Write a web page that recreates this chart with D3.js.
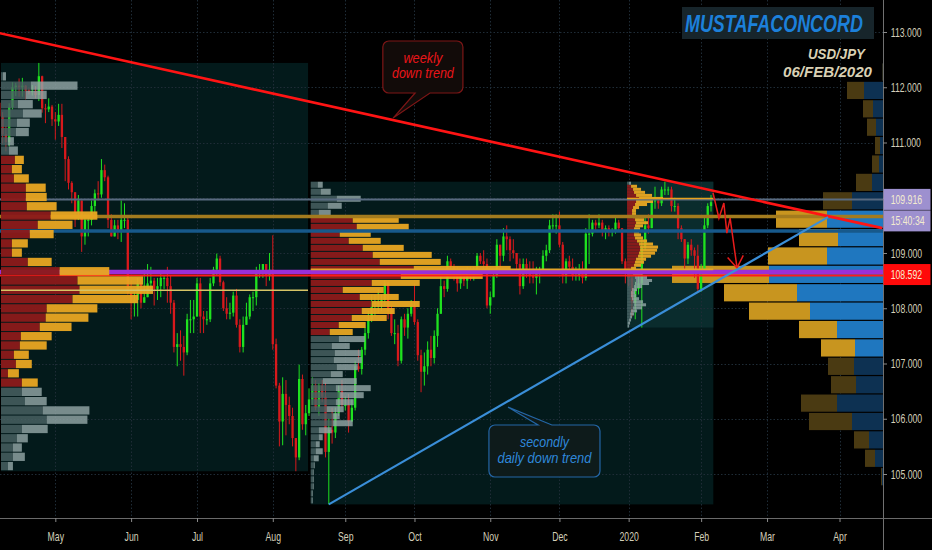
<!DOCTYPE html>
<html><head><meta charset="utf-8">
<script src="https://cdn.jsdelivr.net/npm/d3@7/dist/d3.min.js"></script>
<style>html,body{margin:0;padding:0;background:#000;overflow:hidden}</style>
</head><body>
<svg id="chart" width="932" height="550"></svg>
<script>
// ===================== DATA =====================
const startDay = "2019-04-08";
const holidays = ["2019-12-25", "2020-01-01"];
const firstOpen = 111.72;
const closes = [111.47,111.15,111.01,111.64,112.00, 112.03,112.00,112.03,111.94,111.92, 111.93,111.86,112.20,111.62,111.60,
111.65,111.42,111.38,111.50,111.10, 110.70,110.27,110.10,109.73,109.95, 109.30,109.60,109.60,109.85,110.08,
110.06,110.50,110.37,109.60,109.30, 109.50,109.40,109.60,109.60,108.28, 108.10,108.15,108.45,108.10,108.20,
108.45,108.50,108.35,108.40,108.55, 108.55,108.40,108.10,107.30,107.35, 107.30,107.20,107.80,107.80,107.85,
108.45,107.85,107.80,107.80,108.45, 108.70,108.90,108.47,108.00,107.90, 107.92,108.23,107.70,107.30,107.70,
107.85,108.20,108.20,108.65,108.68, 108.80,108.60,108.70,107.35,106.60, 105.95,106.45,106.25,106.05,105.65,
105.30,106.72,105.90,106.10,106.35, 106.60,106.20,106.60,106.40,105.40, 105.80,105.75,106.10,106.50,106.25,
106.25,105.95,106.20,106.95,106.90, 107.25,107.55,107.80,108.10,108.10, 108.10,108.15,108.45,107.95,107.55,
107.55,107.05,107.80,107.65,107.90, 108.05,107.75,107.15,106.85,106.95, 107.25,107.10,107.50,107.90,108.40,
108.35,108.85,108.75,108.65,108.45, 108.60,108.50,108.70,108.60,108.65, 108.95,108.85,108.80,108.05,108.20,
108.60,109.15,108.95,109.30,109.25, 109.05,109.00,108.80,108.40,108.80, 108.65,108.60,108.55,108.65,108.70,
108.95,109.05,109.50,109.50,109.50, 109.15,108.60,108.85,108.75,108.60, 108.60,108.70,108.55,109.35,109.35,
109.55,109.50,109.55,109.40,109.45, 109.40,109.40,109.55,109.45, 108.85,108.65,108.55,108.10,
108.35,108.45,109.10,109.50,109.45, 109.95,109.95,109.90,110.15,110.15, 110.15,109.85,109.85,109.45,109.25,
108.90,109.15,109.05,108.95,108.35, 108.70,109.50,109.85,109.92];
const highs = [111.80,111.55,111.30,111.71,112.09, 112.08,112.16,112.17,112.04,111.98, 112.04,112.02,112.44,112.21,111.70,
111.80,111.68,111.55,111.70,111.70, 111.05,110.75,110.30,110.10,110.05, 109.95,109.70,109.70,109.95,110.15,
110.30,110.70,110.60,110.40,109.70, 109.60,109.60,109.95,109.90,109.65, 108.50,108.30,108.55,108.55,108.70,
108.80,108.75,108.55,108.55,108.65, 108.60,108.75,108.60,108.15,107.55, 107.60,107.50,107.90,108.15,108.15,
108.55,108.55,107.95,107.95,108.55, 108.75,108.99,108.95,108.50,108.20, 108.10,108.30,108.35,107.80,107.85,
108.10,108.25,108.30,108.75,108.80, 108.80,108.80,109.00,109.32,107.45, 106.65,106.75,106.70,106.40,106.20,
105.65,106.98,106.80,106.25,106.55, 106.75,106.70,106.65,106.70,106.65, 106.00,106.20,106.20,106.60,106.70,
106.40,106.45,106.35,107.05,107.25, 107.30,107.65,107.95,108.25,108.25, 108.35,108.25,108.50,108.48,108.05,
107.80,107.70,107.85,107.90,108.00, 108.15,108.45,107.80,107.25,107.20, 107.40,107.50,107.60,108.00,108.60,
108.50,108.95,108.90,108.80,108.75, 108.70,108.70,108.75,108.75,108.75, 109.00,109.00,109.05,108.90,108.30,
108.70,109.25,109.15,109.45,109.50, 109.30,109.25,109.00,108.90,108.90, 108.90,108.85,108.85,108.75,108.75,
109.05,109.15,109.60,109.70,109.70, 109.75,109.20,108.90,108.95,108.90, 108.75,108.80,108.85,109.45,109.70,
109.60,109.60,109.70,109.60,109.50, 109.50,109.45,109.65,109.60, 109.45,108.90,108.75,108.60,
108.50,108.60,109.25,109.65,109.70, 110.00,110.20,110.00,110.20,110.29, 110.20,110.20,110.00,109.90,109.50,
109.10,109.20,109.25,109.10,109.15, 108.80,109.65,109.90,110.05];
const lows = [111.15,110.98,110.84,110.93,111.60, 111.84,111.83,111.83,111.78,111.87, 111.85,111.80,111.75,111.54,111.35,
111.55,111.30,111.05,111.30,110.90, 110.30,110.15,109.90,109.47,109.60, 109.02,109.15,109.30,109.50,109.70,
109.95,110.00,110.30,109.45,109.30, 109.30,109.25,109.20,109.45,108.25, 107.80,107.85,107.85,108.00,108.10,
108.25,108.35,108.05,108.15,108.20, 108.35,108.10,107.90,107.20,106.95, 107.05,106.78,107.15,107.55,107.55,
107.85,107.55,107.55,107.70,107.75, 108.40,108.60,108.40,107.95,107.80, 107.80,107.85,107.65,107.20,107.20,
107.70,107.80,107.95,108.05,108.55, 108.55,108.40,108.50,107.25,106.55, 105.50,105.52,105.70,105.90,105.50,
105.05,105.25,105.80,105.70,106.05, 106.25,106.15,106.05,106.30,105.30, 104.45,105.55,105.65,106.05,106.20,
106.15,105.75,105.95,106.15,106.85, 106.80,107.15,107.45,107.75,107.85, 107.90,107.95,108.05,107.80,107.50,
107.35,106.95,107.00,107.50,107.45, 107.85,107.70,107.05,106.48,106.60, 106.80,106.95,107.00,107.30,107.90,
108.20,108.30,108.60,108.50,108.30, 108.35,108.40,108.35,108.50,108.50, 108.60,108.80,108.65,108.00,107.90,
108.20,108.55,108.75,108.85,109.05, 108.85,108.90,108.65,108.25,108.35, 108.55,108.45,108.45,108.25,108.45,
108.65,108.85,109.00,109.40,109.35, 109.10,108.45,108.45,108.65,108.50, 108.50,108.50,108.45,108.50,108.80,
109.30,109.40,109.45,109.30,109.25, 109.30,109.30,109.35,109.40, 108.80,108.45,108.40,107.85,
107.80,108.25,107.65,109.05,109.35, 109.45,109.80,109.80,109.85,110.05, 110.05,109.75,109.75,109.25,109.20,
108.70,108.80,108.95,108.55,108.30, 108.30,108.75,109.45,109.75];

const priceTicks = [105,106,107,108,109,110,111,112,113];
const monthStarts = ["2019-05-01","2019-06-01","2019-07-01","2019-08-01","2019-09-01","2019-10-01","2019-11-01","2019-12-01","2020-01-01","2020-02-01","2020-03-01","2020-04-01"];
const monthLabels = ["May","Jun","Jul","Aug","Sep","Oct","Nov","Dec","2020","Feb","Mar","Apr"];

// horizontal levels: grey, gold, blue, purple, red
const levelPrices = [109.97, 109.66, 109.40, 108.657, 108.592];
const lastPrice = 109.916;
const countdown = "15:40:34";
const markedPrice = 108.592;

// session volume profiles (relative volumes, top row first)
const vp1Period = ["2019-04-09", "2019-08-15"];
const vp1Down = [0,2,30,25,17,22,16,15,7,8,14,11,13,25,25,26,50,37,29,11,11,27,59,77,79,72,46,45,39,20,19,13,15,7,21,21,24,42,46,21,16,12,12,7];
const vp1Up   = [0,3,47,21,15,19,13,13,6,9,9,10,15,20,21,30,47,35,24,16,10,24,50,66,74,66,51,43,32,31,27,15,16,11,16,20,22,47,41,26,11,9,12,5];
const vp1ValueArea = [10, 34];

const vp2Period = ["2019-08-19", "2020-02-06"];
const vp2Down = [7,10,26,17,8,42,46,29,38,52,62,69,103,90,61,32,49,61,51,41,28,19,28,21,24,23,26,20,12,25,29,25,16,22,22,8,8,5,5,3,3,2,2,2,1,1];
const vp2Up   = [5,10,24,14,12,46,52,31,32,41,59,61,97,82,48,41,39,48,33,35,27,23,26,18,26,28,21,12,34,35,24,18,17,7,20,13,4,4,7,5,1,1,1,1,1,1];
const vp2ValueArea = [5, 21];

const vp3Period = ["2020-01-02", "2020-02-06"];
const vp3Down = [2,4,6,7,9,12,9,8,6,5,5,6,8,9,8,7,7,7,8,10,12,13,13,12,11,9,8,7,4,5,6,8,9,8,7,5,4,4,5,6,7,6,4,3,3,2,1,1];
const vp3Up   = [2,6,8,11,16,24,17,12,6,4,4,6,9,12,8,6,5,7,8,10,14,18,17,16,13,10,9,7,5,7,9,12,16,14,8,5,4,5,7,10,12,9,6,4,2,2,2,1];
const vp3ValueArea = [1, 28];

// visible range volume profile
const vpvUp   = [0.5,17,10,9,5,7,16,29,51,39,59,97,73,61,38,34,26,25,36,43,15,10,1,0];
const vpvDown = [0.5,19,10,7,3,4,11,31,56,45,56,114,86,73,46,28,29,27,46,31,14,8,1,0];
const vpvValueArea = [8, 15];

// drawings (bar index, price)
const weeklyTrend = [[0, 112.98], [268, 109.45]];
const dailyTrend  = [[100, 104.45], [251.5, 109.65]];
const forecastPath = [[216.6,110.09],[218.4,109.63],[219.9,109.905],[220.8,109.36],[221.8,109.63],[223.9,108.73]];

// ===================== SETUP =====================
const W = 932, H = 550, AX = 883, AY = 518;
const svg = d3.select("#chart");
const parse = d3.timeParse("%Y-%m-%d"), fmt = d3.timeFormat("%Y-%m-%d");
const tradingDays = [];
for (let d = parse(startDay); tradingDays.length < 290; d = d3.timeDay.offset(d, 1)) {
  const w = d.getDay();
  if (w !== 0 && w !== 6 && !holidays.includes(fmt(d))) tradingDays.push(d);
}
const dayIndex = s => { const t = parse(s); return tradingDays.findIndex(d => d >= t); };

const x = d3.scaleLinear().domain([0, 268]).range([-0.7, 882.36]);
const y = d3.scaleLinear().domain([105, 113]).range([474, 32]);

const candles = closes.map((c, i) => {
  const o = i === 0 ? firstOpen : closes[i - 1];
  return { i, o, c, h: Math.max(highs[i], o, c), l: Math.min(lows[i], o, c) };
});

const GREEN = "#1fe21f", RED = "#d8191c";
const FONT = "'Liberation Sans', Arial, sans-serif";

// text squeezed horizontally to a target width
function fitText(parent, str, px, py, width, anchor, attrs) {
  const t = parent.append("text").attr("x", 0).attr("y", 0).attr("text-anchor", anchor).text(str);
  Object.entries(attrs).forEach(([k, v]) => t.attr(k, v));
  const natural = t.node().getComputedTextLength() || width;
  t.attr("transform", `translate(${px},${py}) scale(${width / natural},1)`);
  return t;
}

svg.append("rect").attr("width", W).attr("height", H).attr("fill", "#000");
svg.append("defs").append("clipPath").attr("id", "plot")
  .append("rect").attr("x", 0).attr("y", 0).attr("width", AX).attr("height", AY);
const plot = svg.append("g").attr("clip-path", "url(#plot)");

// ---- profile geometry
function makeProfile(period, down, up, va, pocWidth) {
  const i0 = dayIndex(period[0]), i1 = dayIndex(period[1]);
  const seg = candles.slice(i0, i1 + 1);
  const hi = d3.max(seg, d => d.h), lo = d3.min(seg, d => d.l);
  const totals = down.map((v, k) => v + up[k]);
  return {
    i0, i1, hi, lo, down, up, va, totals,
    left: x(i0) - 1.6, right: x(i1) + 2.3,
    step: (hi - lo) / down.length,
    w: d3.scaleLinear().domain([0, d3.max(totals)]).range([0, pocWidth]),
    poc: d3.maxIndex(totals)
  };
}
const P1 = makeProfile(vp1Period, vp1Down, vp1Up, vp1ValueArea, 152);
const P2 = makeProfile(vp2Period, vp2Down, vp2Up, vp2ValueArea, 200);
const P3 = makeProfile(vp3Period, vp3Down, vp3Up, vp3ValueArea, 36);

// ---- box backgrounds
[[P1, "#031a1b"], [P2, "#031a1b"], [P3, "#0a2c2d"]].forEach(([p, col]) => {
  plot.append("rect").attr("x", p.left).attr("y", y(p.hi))
    .attr("width", p.right - p.left).attr("height", y(p.lo) - y(p.hi)).attr("fill", col);
});

// ---- grid
const monthIdx = monthStarts.map(dayIndex);
const grid = plot.append("g").attr("stroke", "#1f2c37").attr("stroke-width", 1).attr("stroke-dasharray", "1.5,2");
grid.selectAll("line.h").data(priceTicks).join("line")
  .attr("x1", 0).attr("x2", AX).attr("y1", d => Math.round(y(d)) + 0.5).attr("y2", d => Math.round(y(d)) + 0.5);
grid.selectAll("line.v").data(monthIdx).join("line")
  .attr("y1", 0).attr("y2", AY).attr("x1", d => Math.round(x(d)) + 0.5).attr("x2", d => Math.round(x(d)) + 0.5);

// ---- visible range volume profile (right side)
{
  const hi = d3.max(candles, d => d.h), lo = d3.min(candles, d => d.l);
  const n = vpvUp.length, step = (hi - lo) / n;
  const totals = vpvUp.map((v, k) => v + vpvDown[k]);
  const w = d3.scaleLinear().domain([0, d3.max(totals)]).range([0, 211]);
  const rows = vpvUp.map((u, k) => ({ k, u, d: vpvDown[k], inVA: k >= vpvValueArea[0] && k <= vpvValueArea[1],
    y0: y(hi - k * step), y1: y(hi - (k + 1) * step) }));
  const g = plot.append("g");
  g.selectAll("rect.b").data(rows).join("rect")
    .attr("x", r => AX - w(r.d)).attr("width", r => w(r.d))
    .attr("y", r => r.y0 + 0.5).attr("height", r => Math.max(0, r.y1 - r.y0 - 1.2))
    .attr("fill", r => r.inVA ? "#1f77bf" : "#0d3152");
  g.selectAll("rect.g").data(rows).join("rect")
    .attr("x", r => AX - w(r.d) - w(r.u)).attr("width", r => w(r.u))
    .attr("y", r => r.y0 + 0.5).attr("height", r => Math.max(0, r.y1 - r.y0 - 1.2))
    .attr("fill", r => r.inVA ? "#c8951f" : "#4a3a12");
}

// ---- candles
const cg = plot.append("g");
cg.selectAll("line").data(candles).join("line")
  .attr("x1", d => x(d.i)).attr("x2", d => x(d.i))
  .attr("y1", d => y(d.h)).attr("y2", d => y(d.l))
  .attr("stroke", d => d.c >= d.o ? GREEN : RED).attr("stroke-width", 1);
cg.selectAll("rect").data(candles).join("rect")
  .attr("x", d => x(d.i) - 1.15).attr("width", 2.3)
  .attr("y", d => y(Math.max(d.o, d.c)))
  .attr("height", d => Math.max(1, Math.abs(y(d.o) - y(d.c))))
  .attr("fill", d => d.c >= d.o ? GREEN : RED);

// ---- profile drawing
function drawProfile(p, gap) {
  const g = plot.append("g");
  const rows = p.down.map((dv, k) => ({ k, dv, uv: p.up[k], inVA: k >= p.va[0] && k <= p.va[1],
    y0: y(p.hi - k * p.step), y1: y(p.hi - (k + 1) * p.step) }));
  g.selectAll("rect.d").data(rows).join("rect")
    .attr("x", p.left).attr("width", r => p.w(r.dv))
    .attr("y", r => r.y0).attr("height", r => Math.max(0.5, r.y1 - r.y0 - gap))
    .attr("fill", r => r.inVA ? "#8c1a1a" : "#4a6364")
    .attr("opacity", r => r.inVA ? 0.95 : 0.82);
  g.selectAll("rect.u").data(rows).join("rect")
    .attr("x", r => p.left + p.w(r.dv)).attr("width", r => p.w(r.uv))
    .attr("y", r => r.y0).attr("height", r => Math.max(0.5, r.y1 - r.y0 - gap))
    .attr("fill", r => r.inVA ? "#e9a622" : "#93a6a6")
    .attr("opacity", r => r.inVA ? 0.95 : 0.82);
}
function drawPOC(p, col) {
  const yc = (y(p.hi - p.poc * p.step) + y(p.hi - (p.poc + 1) * p.step)) / 2;
  plot.append("line").attr("x1", p.left).attr("x2", p.right).attr("y1", yc).attr("y2", yc)
    .attr("stroke", col).attr("stroke-width", 1.6);
}
drawProfile(P2, 1);
drawProfile(P3, 0);

// ---- horizontal levels
const levelStyle = [["#586a80", 2], ["#a37b1e", 3.5], ["#17598b", 3.5], ["#9a2fd8", 4.5], ["#ff1a1a", 2]];
plot.selectAll("line.lvl").data(levelPrices).join("line")
  .attr("x1", 0).attr("x2", AX).attr("y1", d => y(d)).attr("y2", d => y(d))
  .attr("stroke", (d, i) => levelStyle[i][0]).attr("stroke-width", (d, i) => levelStyle[i][1]);

drawProfile(P1, 1);
drawPOC(P1, "#d6c466");
drawPOC(P2, "#e4a52a");
drawPOC(P3, "#e8a21e");

// ---- trend lines
const lineGen = d3.line().x(d => x(d[0])).y(d => y(d[1]));
plot.append("path").attr("d", lineGen(weeklyTrend)).attr("stroke", "#ff1414").attr("stroke-width", 2.6).attr("fill", "none");
plot.append("path").attr("d", lineGen(dailyTrend)).attr("stroke", "#3a8ed8").attr("stroke-width", 2.2).attr("fill", "none");
plot.append("path").attr("d", lineGen(forecastPath)).attr("stroke", "#e81c1c").attr("stroke-width", 1.5).attr("fill", "none");
{
  const n = forecastPath.length;
  const tx = x(forecastPath[n - 1][0]), ty = y(forecastPath[n - 1][1]);
  const px = x(forecastPath[n - 2][0]), py = y(forecastPath[n - 2][1]);
  const a = Math.atan2(ty - py, tx - px), L = 14;
  [0.6, -0.6].forEach(da => {
    plot.append("line").attr("x1", tx).attr("y1", ty)
      .attr("x2", tx - L * Math.cos(a + da)).attr("y2", ty - L * Math.sin(a + da))
      .attr("stroke", "#e81c1c").attr("stroke-width", 1.5);
  });
}

// ---- callouts
function callout(box, tail, side, fill, stroke) {
  const x0 = x(box[0]), x1 = x(box[1]), y0 = y(box[2]), y1 = y(box[3]), r = 6;
  const a = x(tail[0]), b = x(tail[1]), tx = x(tail[2]), ty = y(tail[3]);
  let d = `M${x0 + r},${y0}`;
  if (side === "top") d += `H${a}L${tx},${ty}L${b},${y0}`;
  d += `H${x1 - r}A${r},${r} 0 0 1 ${x1},${y0 + r}V${y1 - r}A${r},${r} 0 0 1 ${x1 - r},${y1}`;
  if (side === "bottom") d += `H${b}L${tx},${ty}L${a},${y1}`;
  d += `H${x0 + r}A${r},${r} 0 0 1 ${x0},${y1 - r}V${y0 + r}A${r},${r} 0 0 1 ${x0 + r},${y0}Z`;
  plot.append("path").attr("d", d).attr("fill", fill).attr("stroke", stroke).attr("stroke-width", 1.2);
  return { cx: (x0 + x1) / 2, top: y0 };
}
function calloutText(c, lines, col) {
  lines.forEach(([t, dy, len]) => {
    fitText(plot, t, c.cx, c.top + dy, len, "middle",
      { "font-family": FONT, "font-style": "italic", "font-size": 14, fill: col });
  });
}
const cW = callout([116.4, 140.7, 112.837, 111.896], [126.2, 130.7, 119.5, 111.443], "bottom", "#120b09", "#7d1616");
calloutText(cW, [["weekly", 22, 39], ["down trend", 37, 62]], "#ea1519");
const cD = callout([148.6, 182.3, 105.887, 104.946], [163.5, 167.7, 154.4, 106.21], "top", "#0e1b1b", "#2466a6");
calloutText(cD, [["secondly", 22, 49], ["daily down trend", 38, 94]], "#2f88da");

// ---- axes
svg.append("line").attr("x1", AX + 0.5).attr("x2", AX + 0.5).attr("y1", 0).attr("y2", H).attr("stroke", "#707070");
svg.append("line").attr("x1", 0).attr("x2", W).attr("y1", AY + 0.5).attr("y2", AY + 0.5).attr("stroke", "#6a6a6a");

const yAxis = svg.append("g").attr("transform", `translate(${AX},0)`)
  .call(d3.axisRight(y).tickValues(priceTicks).tickFormat(d3.format(".3f")).tickSize(4).tickPadding(7.6));
const xAxis = svg.append("g").attr("transform", `translate(0,${AY})`)
  .call(d3.axisBottom(x).tickValues(monthIdx).tickFormat((d, i) => monthLabels[i]).tickSize(4).tickPadding(10));
[yAxis, xAxis].forEach(ax => {
  ax.select(".domain").remove();
  ax.selectAll(".tick line").attr("stroke", "#8a8a8a");
  ax.selectAll(".tick text").attr("fill", "#d3cfb9").attr("font-family", FONT).attr("font-size", 13)
    .attr("transform", "scale(0.67,1)");
});

// ---- price labels on axis
function axisLabel(yc, text, fill, tcol) {
  svg.append("rect").attr("x", AX + 0.5).attr("y", yc - 10.5).attr("width", 47).attr("height", 21).attr("fill", fill);
  svg.append("text").attr("transform", `translate(${AX + 7.7},${yc + 4.3}) scale(0.67,1)`)
    .attr("font-family", FONT).attr("font-size", 13).attr("fill", tcol).text(text);
}
const yl = y(lastPrice) - 3;
axisLabel(yl, d3.format(".3f")(lastPrice), "#9d90cf", "#f3ebcf");
axisLabel(yl + 21.5, countdown, "#9d90cf", "#f3ebcf");
axisLabel(y(markedPrice) - 1, d3.format(".3f")(markedPrice), "#ff0a0a", "#f7ead0");

// ---- header
svg.append("rect").attr("x", 682).attr("y", 7).attr("width", 192).attr("height", 32).attr("fill", "#17252b");
const headStyle = { "font-family": FONT, "font-weight": "bold", "font-style": "italic" };
fitText(svg, "MUSTAFACONCORD", 685, 31.7, 178, "start", { ...headStyle, "font-size": 24, fill: "#1c80da" });
fitText(svg, "USD/JPY", 808, 59.3, 57, "start", { ...headStyle, "font-size": 15, fill: "#d9d1b5" });
fitText(svg, "06/FEB/2020", 783, 76.7, 89, "start", { ...headStyle, "font-size": 15, fill: "#d9d1b5" });
</script>
</body></html>
